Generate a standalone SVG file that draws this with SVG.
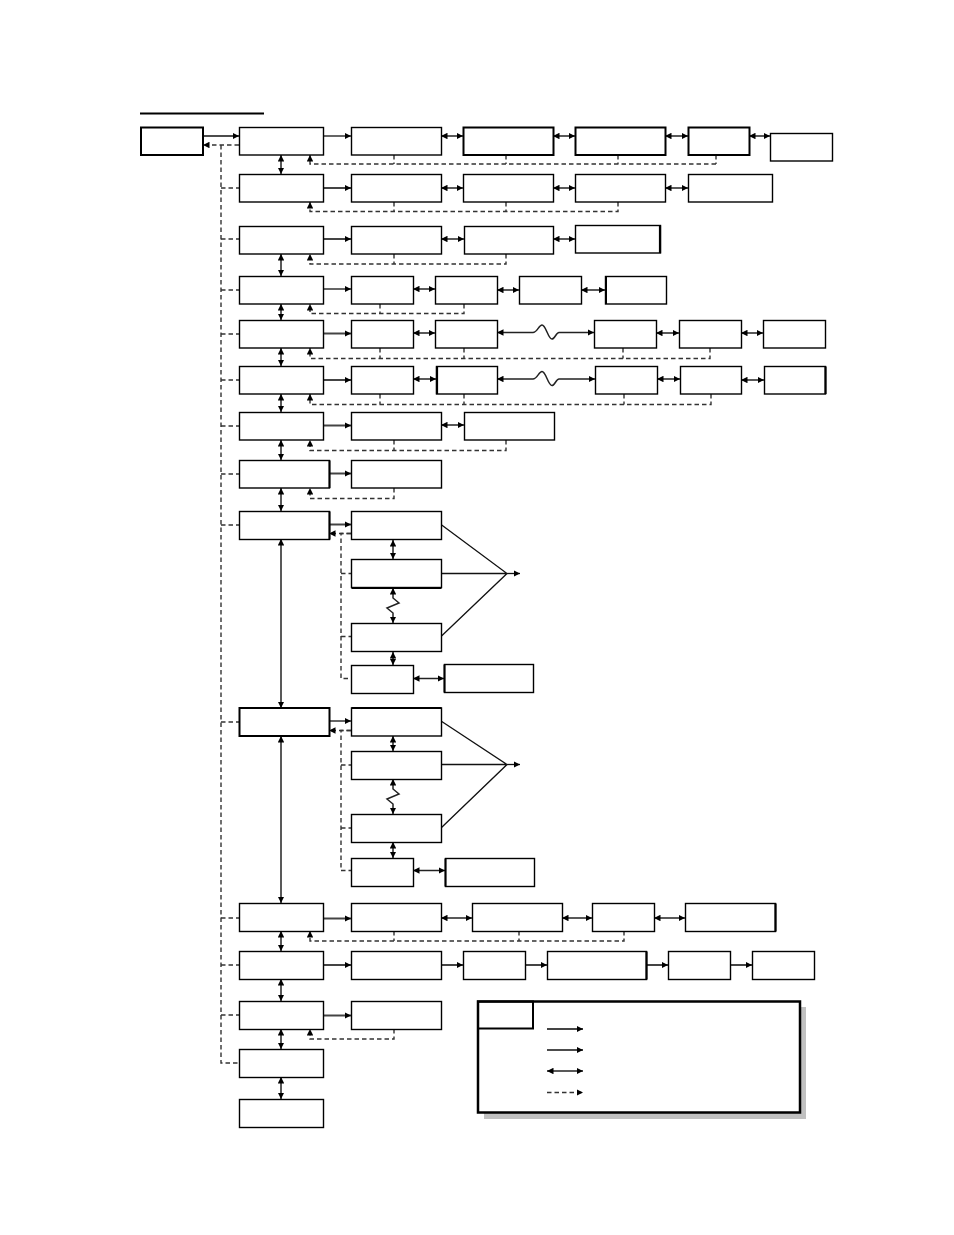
<svg xmlns="http://www.w3.org/2000/svg" width="954" height="1235" viewBox="0 0 954 1235">
<style>
.n rect{fill:#fff;stroke:#000;stroke-width:1.4}
.n rect.t{stroke-width:2}
.c path,.c line{fill:none}
.s{stroke:#444;stroke-width:2}
.s1{stroke:#111;stroke-width:1.3}
.d{stroke:#222;stroke-width:1.5}
.f{stroke:#333;stroke-width:1.4;stroke-dasharray:4.5 3}
</style>
<defs>
<marker id="ah" viewBox="0 0 6.5 6.5" refX="6.5" refY="3.25" markerWidth="6.5" markerHeight="6.5" markerUnits="userSpaceOnUse" orient="auto-start-reverse"><path d="M0,0 L6.5,3.25 L0,6.5 z" fill="#000"/></marker>
</defs>
<rect x="0" y="0" width="954" height="1235" fill="#fff"/>
<line x1="140" y1="113.5" x2="264" y2="113.5" stroke="#000" stroke-width="2"/>

<g class="c" id="connectors">
<line class="s1" x1="203" y1="136" x2="239" y2="136" marker-end="url(#ah)"/>
<path class="f" d="M239,145 L203,145" marker-end="url(#ah)"/>
<path class="f" d="M221,145 L221,1063 L239,1063"/>
<path class="f" d="M221,188 H239 M221,239 H239 M221,290 H239 M221,334 H239 M221,380 H239 M221,426 H239 M221,474 H239 M221,525 H239 M221,722 H239 M221,918 H239 M221,965 H239 M221,1015 H239"/>
<line class="d" x1="281" y1="155" x2="281" y2="174" marker-start="url(#ah)" marker-end="url(#ah)"/>
<line class="d" x1="281" y1="254" x2="281" y2="276" marker-start="url(#ah)" marker-end="url(#ah)"/>
<line class="d" x1="281" y1="304" x2="281" y2="320" marker-start="url(#ah)" marker-end="url(#ah)"/>
<line class="d" x1="281" y1="348" x2="281" y2="366" marker-start="url(#ah)" marker-end="url(#ah)"/>
<line class="d" x1="281" y1="394" x2="281" y2="412" marker-start="url(#ah)" marker-end="url(#ah)"/>
<line class="d" x1="281" y1="440" x2="281" y2="460" marker-start="url(#ah)" marker-end="url(#ah)"/>
<line class="d" x1="281" y1="488" x2="281" y2="511" marker-start="url(#ah)" marker-end="url(#ah)"/>
<line class="d" x1="281" y1="539" x2="281" y2="708" marker-start="url(#ah)" marker-end="url(#ah)"/>
<line class="d" x1="281" y1="736" x2="281" y2="903" marker-start="url(#ah)" marker-end="url(#ah)"/>
<line class="d" x1="281" y1="931" x2="281" y2="951" marker-start="url(#ah)" marker-end="url(#ah)"/>
<line class="d" x1="281" y1="979" x2="281" y2="1001" marker-start="url(#ah)" marker-end="url(#ah)"/>
<line class="d" x1="281" y1="1029" x2="281" y2="1049" marker-start="url(#ah)" marker-end="url(#ah)"/>
<line class="d" x1="281" y1="1077" x2="281" y2="1099" marker-start="url(#ah)" marker-end="url(#ah)"/>
<path class="f" d="M394,155 V164 M506,155 V164 M618,155 V164 M716,155 V164 M716,164 H310 V155" marker-end="url(#ah)"/>
<path class="f" d="M394,202 V211.5 M506,202 V211.5 M618,202 V211.5 H310 V202" marker-end="url(#ah)"/>
<path class="f" d="M394,254 V264 M506,254 V264 H310 V254" marker-end="url(#ah)"/>
<path class="f" d="M380,304 V313.5 M464,304 V313.5 H310 V304" marker-end="url(#ah)"/>
<path class="f" d="M380,348 V358.5 M464,348 V358.5 M623,348 V358.5 M710,348 V358.5 H310 V348" marker-end="url(#ah)"/>
<path class="f" d="M380,394 V404.5 M464,394 V404.5 M624,394 V404.5 M711,394 V404.5 H310 V394" marker-end="url(#ah)"/>
<path class="f" d="M394,440 V450.5 M506,440 V450.5 H310 V440" marker-end="url(#ah)"/>
<path class="f" d="M394,488 V498.5 H310 V488" marker-end="url(#ah)"/>
<path class="f" d="M394,931 V941 M519,931 V941 M624,931 V941 H310 V931" marker-end="url(#ah)"/>
<path class="f" d="M394,1029 V1039 H310 V1029" marker-end="url(#ah)"/>
<line class="s1" x1="323" y1="136" x2="351" y2="136" marker-end="url(#ah)"/>
<line class="d" x1="441" y1="136" x2="463" y2="136" marker-start="url(#ah)" marker-end="url(#ah)"/>
<line class="d" x1="553" y1="136" x2="575" y2="136" marker-start="url(#ah)" marker-end="url(#ah)"/>
<line class="d" x1="665" y1="136" x2="688" y2="136" marker-start="url(#ah)" marker-end="url(#ah)"/>
<line class="d" x1="749" y1="136" x2="770" y2="136" marker-start="url(#ah)" marker-end="url(#ah)"/>
<line class="s" x1="323" y1="188" x2="351" y2="188" marker-end="url(#ah)"/>
<line class="d" x1="441" y1="188" x2="463" y2="188" marker-start="url(#ah)" marker-end="url(#ah)"/>
<line class="d" x1="553" y1="188" x2="575" y2="188" marker-start="url(#ah)" marker-end="url(#ah)"/>
<line class="d" x1="665" y1="188" x2="688" y2="188" marker-start="url(#ah)" marker-end="url(#ah)"/>
<line class="s" x1="323" y1="239" x2="351" y2="239" marker-end="url(#ah)"/>
<line class="d" x1="441" y1="239" x2="464" y2="239" marker-start="url(#ah)" marker-end="url(#ah)"/>
<line class="d" x1="553" y1="239" x2="575" y2="239" marker-start="url(#ah)" marker-end="url(#ah)"/>
<line class="s1" x1="323" y1="289" x2="351" y2="289" marker-end="url(#ah)"/>
<line class="d" x1="413" y1="289" x2="435" y2="289" marker-start="url(#ah)" marker-end="url(#ah)"/>
<line class="d" x1="497" y1="290" x2="519" y2="290" marker-start="url(#ah)" marker-end="url(#ah)"/>
<line class="d" x1="581" y1="290" x2="605" y2="290" marker-start="url(#ah)" marker-end="url(#ah)"/>
<line class="s" x1="323" y1="333.5" x2="351" y2="333.5" marker-end="url(#ah)"/>
<line class="d" x1="413" y1="333" x2="435" y2="333" marker-start="url(#ah)" marker-end="url(#ah)"/>
<path class="d" d="M497,332.5 L533,332.5 C537,332.5 539,325 542,325 C546,325 548,339 552,339 C555,339 556,332.5 559,332.5 L594,332.5" marker-start="url(#ah)" marker-end="url(#ah)"/>
<line class="d" x1="656" y1="333" x2="679" y2="333" marker-start="url(#ah)" marker-end="url(#ah)"/>
<line class="d" x1="741" y1="333" x2="763" y2="333" marker-start="url(#ah)" marker-end="url(#ah)"/>
<line class="s" x1="323" y1="380" x2="351" y2="380" marker-end="url(#ah)"/>
<line class="d" x1="413" y1="379" x2="436" y2="379" marker-start="url(#ah)" marker-end="url(#ah)"/>
<path class="d" d="M497,379 L533,379 C537,379 539,371.5 542,371.5 C546,371.5 548,385.5 552,385.5 C555,385.5 556,379 559,379 L595,379" marker-start="url(#ah)" marker-end="url(#ah)"/>
<line class="d" x1="657" y1="379" x2="680" y2="379" marker-start="url(#ah)" marker-end="url(#ah)"/>
<line class="d" x1="741" y1="380" x2="764" y2="380" marker-start="url(#ah)" marker-end="url(#ah)"/>
<line class="s" x1="323" y1="425.5" x2="351" y2="425.5" marker-end="url(#ah)"/>
<line class="d" x1="441" y1="425" x2="464" y2="425" marker-start="url(#ah)" marker-end="url(#ah)"/>
<line class="s" x1="329" y1="473.5" x2="351" y2="473.5" marker-end="url(#ah)"/>
<line class="s" x1="329" y1="524.5" x2="351" y2="524.5" marker-end="url(#ah)"/>
<path class="f" d="M351,533.5 L329,533.5" marker-end="url(#ah)"/>
<path class="f" d="M351,533.5 H341 V678.5 H351 M341,573.5 H351 M341,636.5 H351"/>
<line class="d" x1="393" y1="540" x2="393" y2="559" marker-start="url(#ah)" marker-end="url(#ah)"/>
<path class="d" d="M393,588 L393,598 L399,603 L387,608 L393,613 L393,623" marker-start="url(#ah)" marker-end="url(#ah)"/>
<line class="d" x1="393" y1="652" x2="393" y2="665" marker-start="url(#ah)" marker-end="url(#ah)"/>
<line class="d" x1="413" y1="678.5" x2="444" y2="678.5" marker-start="url(#ah)" marker-end="url(#ah)"/>
<path class="s1" d="M441,524.5 L507,573.5 L441,636.5 M441,573.5 L507,573.5"/>
<line class="s1" x1="507" y1="573.5" x2="520" y2="573.5" marker-end="url(#ah)"/>
<line class="s1" x1="329" y1="721" x2="351" y2="721" marker-end="url(#ah)"/>
<path class="f" d="M351,730.5 L329,730.5" marker-end="url(#ah)"/>
<path class="f" d="M351,730.5 H341 V870.5 H351 M341,765 H351 M341,828 H351"/>
<line class="d" x1="393" y1="736" x2="393" y2="751" marker-start="url(#ah)" marker-end="url(#ah)"/>
<path class="d" d="M393,779 L393,789 L399,794 L387,799 L393,804 L393,814" marker-start="url(#ah)" marker-end="url(#ah)"/>
<line class="d" x1="393" y1="842" x2="393" y2="858" marker-start="url(#ah)" marker-end="url(#ah)"/>
<line class="d" x1="413" y1="870.5" x2="445" y2="870.5" marker-start="url(#ah)" marker-end="url(#ah)"/>
<path class="s1" d="M441,721 L507,764.5 L441,828 M441,764.5 L507,764.5"/>
<line class="s1" x1="507" y1="764.5" x2="520" y2="764.5" marker-end="url(#ah)"/>
<line class="s" x1="323" y1="918.5" x2="351" y2="918.5" marker-end="url(#ah)"/>
<line class="d" x1="441" y1="918" x2="472" y2="918" marker-start="url(#ah)" marker-end="url(#ah)"/>
<line class="d" x1="562" y1="918" x2="592" y2="918" marker-start="url(#ah)" marker-end="url(#ah)"/>
<line class="d" x1="654" y1="918" x2="685" y2="918" marker-start="url(#ah)" marker-end="url(#ah)"/>
<line class="s" x1="323" y1="965" x2="351" y2="965" marker-end="url(#ah)"/>
<line class="s" x1="441" y1="965" x2="463" y2="965" marker-end="url(#ah)"/>
<line class="s" x1="525" y1="965" x2="547" y2="965" marker-end="url(#ah)"/>
<line class="s" x1="646" y1="965" x2="668" y2="965" marker-end="url(#ah)"/>
<line class="s" x1="730" y1="965" x2="752" y2="965" marker-end="url(#ah)"/>
<line class="s" x1="323" y1="1015.5" x2="351" y2="1015.5" marker-end="url(#ah)"/>
</g>

<g class="n" id="n-start"><rect class="t" x="141" y="127.5" width="62" height="27.5"/></g>
<g class="n" id="n-r1"><rect x="239.5" y="127.5" width="84" height="27.5"/><rect x="351.5" y="127.5" width="90" height="27.5"/><rect class="t" x="463.5" y="127.5" width="90" height="27.5"/><rect class="t" x="575.5" y="127.5" width="90" height="27.5"/><rect class="t" x="688.5" y="127.5" width="61" height="27.5"/><rect x="770.5" y="133.5" width="62" height="27.5"/></g>
<g class="n" id="n-r2"><rect x="239.5" y="174.5" width="84" height="27.5"/><rect x="351.5" y="174.5" width="90" height="27.5"/><rect x="463.5" y="174.5" width="90" height="27.5"/><rect x="575.5" y="174.5" width="90" height="27.5"/><rect x="688.5" y="174.5" width="84" height="27.5"/></g>
<g class="n" id="n-r3"><rect x="239.5" y="226.5" width="84" height="27.5"/><rect x="351.5" y="226.5" width="90" height="27.5"/><rect x="464.5" y="226.5" width="89" height="27.5"/><rect x="575.5" y="225.5" width="85" height="27.5"/><line x1="660" y1="225.5" x2="660" y2="253" stroke="#000" stroke-width="2.2"/></g>
<g class="n" id="n-r4"><rect x="239.5" y="276.5" width="84" height="27.5"/><rect x="351.5" y="276.5" width="62" height="27.5"/><rect x="435.5" y="276.5" width="62" height="27.5"/><rect x="519.5" y="276.5" width="62" height="27.5"/><rect x="605.5" y="276.5" width="61" height="27.5"/><line x1="606" y1="276.5" x2="606" y2="304" stroke="#000" stroke-width="2"/></g>
<g class="n" id="n-r5"><rect x="239.5" y="320.5" width="84" height="27.5"/><rect x="351.5" y="320.5" width="62" height="27.5"/><rect x="435.5" y="320.5" width="62" height="27.5"/><rect x="594.5" y="320.5" width="62" height="27.5"/><rect x="679.5" y="320.5" width="62" height="27.5"/><rect x="763.5" y="320.5" width="62" height="27.5"/></g>
<g class="n" id="n-r6"><rect x="239.5" y="366.5" width="84" height="27.5"/><rect x="351.5" y="366.5" width="62" height="27.5"/><rect x="436.5" y="366.5" width="61" height="27.5"/><line x1="437" y1="366.5" x2="437" y2="394" stroke="#000" stroke-width="2.2"/><rect x="595.5" y="366.5" width="62" height="27.5"/><rect x="680.5" y="366.5" width="61" height="27.5"/><rect x="764.5" y="366.5" width="61" height="27.5"/><line x1="825.5" y1="366.5" x2="825.5" y2="394" stroke="#000" stroke-width="2.2"/></g>
<g class="n" id="n-r7"><rect x="239.5" y="412.5" width="84" height="27.5"/><rect x="351.5" y="412.5" width="90" height="27.5"/><rect x="464.5" y="412.5" width="90" height="27.5"/></g>
<g class="n" id="n-r8"><rect x="239.5" y="460.5" width="90" height="27.5"/><line x1="329.5" y1="460.5" x2="329.5" y2="488" stroke="#000" stroke-width="2"/><rect x="351.5" y="460.5" width="90" height="27.5"/></g>
<g class="n" id="n-r9"><rect x="239.5" y="511.5" width="90" height="28"/><line x1="329.5" y1="511.5" x2="329.5" y2="539.5" stroke="#000" stroke-width="2"/><rect x="351.5" y="511.5" width="90" height="28"/><rect x="351.5" y="559.5" width="90" height="28"/><line x1="351.5" y1="588" x2="441.5" y2="588" stroke="#000" stroke-width="2"/><rect x="351.5" y="623.5" width="90" height="28"/><rect x="351.5" y="665.5" width="62" height="28"/><rect x="444.5" y="664.5" width="89" height="28"/><line x1="444.5" y1="664.5" x2="444.5" y2="692.5" stroke="#000" stroke-width="2"/></g>
<g class="n" id="n-r10"><rect class="t" x="239.5" y="708" width="90" height="28"/><rect x="351.5" y="708" width="90" height="28"/><line x1="351.5" y1="708" x2="441.5" y2="708" stroke="#000" stroke-width="2.2"/><rect x="351.5" y="751.5" width="90" height="28"/><rect x="351.5" y="814.5" width="90" height="28"/><rect x="351.5" y="858.5" width="62" height="28"/><rect x="445.5" y="858.5" width="89" height="28"/><line x1="445.5" y1="858.5" x2="445.5" y2="886.5" stroke="#000" stroke-width="2"/></g>
<g class="n" id="n-r11"><rect x="239.5" y="903.5" width="84" height="28"/><rect x="351.5" y="903.5" width="90" height="28"/><rect x="472.5" y="903.5" width="90" height="28"/><rect x="592.5" y="903.5" width="62" height="28"/><rect x="685.5" y="903.5" width="90" height="28"/><line x1="775.5" y1="903.5" x2="775.5" y2="931.5" stroke="#000" stroke-width="2.2"/></g>
<g class="n" id="n-r12"><rect x="239.5" y="951.5" width="84" height="28"/><rect x="351.5" y="951.5" width="90" height="28"/><rect x="463.5" y="951.5" width="62" height="28"/><rect x="547.5" y="951.5" width="99" height="28"/><line x1="646.5" y1="951.5" x2="646.5" y2="979.5" stroke="#000" stroke-width="2.2"/><rect x="668.5" y="951.5" width="62" height="28"/><rect x="752.5" y="951.5" width="62" height="28"/></g>
<g class="n" id="n-r13"><rect x="239.5" y="1001.5" width="84" height="28"/><rect x="351.5" y="1001.5" width="90" height="28"/></g>
<g class="n" id="n-r14"><rect x="239.5" y="1049.5" width="84" height="28"/></g>
<g class="n" id="n-r15"><rect x="239.5" y="1099.5" width="84" height="28"/></g>

<g id="legend">
<rect x="484" y="1007" width="322" height="112" fill="#c0c0c0"/>
<rect x="478" y="1001.5" width="322" height="111" fill="#fff" stroke="#000" stroke-width="2.5"/>
<rect x="478" y="1001.5" width="55" height="27" fill="none" stroke="#000" stroke-width="2"/>
<line class="s" x1="547" y1="1029" x2="583" y2="1029" marker-end="url(#ah)"/>
<line class="s1" x1="547" y1="1050" x2="583" y2="1050" marker-end="url(#ah)"/>
<line class="d" x1="547" y1="1071" x2="583" y2="1071" marker-start="url(#ah)" marker-end="url(#ah)"/>
<line class="f" x1="547" y1="1092.5" x2="583" y2="1092.5" marker-end="url(#ah)"/>
</g>
</svg>
